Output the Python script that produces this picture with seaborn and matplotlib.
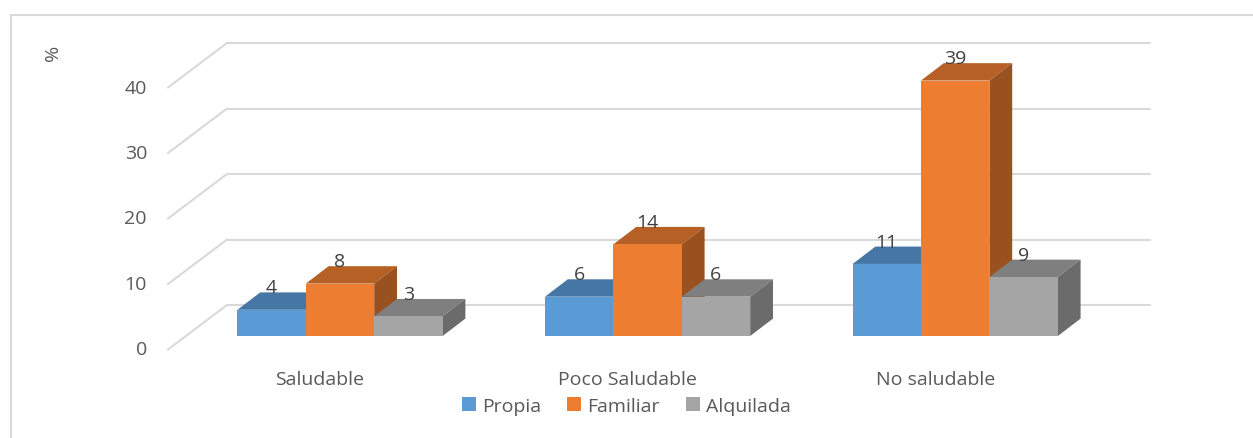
"""3D-look grouped bar chart: housing type vs. diet healthiness."""

import matplotlib.pyplot as plt
import pandas as pd
import seaborn as sns
from matplotlib.patches import Polygon

categories = ["Saludable", "Poco Saludable", "No saludable"]
propia = [4, 6, 11]
familiar = [8, 14, 39]
alquilada = [3, 6, 9]
series_names = ["Propia", "Familiar", "Alquilada"]
y_ticks = [0, 10, 20, 30, 40]

colors = ["#5B9BD5", "#ED7D31", "#A5A5A5"]
top_colors = ["#4677A4", "#B66026", "#7F7F7F"]
side_colors = ["#3B658A", "#9A5120", "#6B6B6B"]
GRID = "#D9D9D9"
TEXT = "#595959"
FONT = 14

# scales of the chart, in pixels
W, H = 1253, 439
PX_X = 307.6  # one category
PX_Y = 6.55  # one percent
X0, Y0 = 340, 337  # first group centre, bar baseline
LEFT, TOP = 11, 16  # frame

# depth of the bars and of the floor, in data units
DX = 22.8 / PX_X
DY = 17.4 / PX_Y
WALL_X = (227 - X0) / PX_X
WALL_Y = (Y0 - 306) / PX_Y
FRONT_X = (168 - X0) / PX_X
FRONT_Y = (Y0 - 350.5) / PX_Y
GRID_END = (1150 - X0) / PX_X

sns.set_theme(style="white")
plt.rcParams["font.family"] = ["Open Sans", "DejaVu Sans"]

df = pd.DataFrame(
    {
        "cat": categories * 3,
        "serie": [s for s in series_names for _ in categories],
        "valor": propia + familiar + alquilada,
    }
)

fig = plt.figure(figsize=(W / 100, H / 100), dpi=100)
ax = fig.add_axes([LEFT / W, 0, (W - LEFT) / W, (H - TOP) / H])

sns.barplot(
    data=df, x="cat", y="valor", hue="serie", hue_order=series_names,
    order=categories, palette=colors, width=0.667, gap=0, saturation=1,
    linewidth=0, ax=ax,
)

# extrude every front face into a box, series by series
for i, bars in enumerate(ax.containers):
    for bar in bars:
        x = bar.get_x()
        w = bar.get_width()
        v = bar.get_height()
        bar.set_zorder(4 + i * 2)
        top = [(x, v), (x + DX, v + DY), (x + w + DX, v + DY), (x + w, v)]
        side = [(x + w, 0), (x + w + DX, DY), (x + w + DX, v + DY), (x + w, v)]
        ax.add_patch(Polygon(top, fc=top_colors[i], ec="none", zorder=3 + i * 2))
        ax.add_patch(Polygon(side, fc=side_colors[i], ec="none", zorder=3 + i * 2))
        ax.text(x + w / 2, v + DY, f"{v:.0f}", ha="center", va="baseline",
                fontsize=FONT, color="#404040", zorder=12)

# walls: horizontal lines at the back, diagonals down to the tick labels
for t in y_ticks:
    ax.plot([WALL_X, GRID_END], [t + WALL_Y, t + WALL_Y], color=GRID, lw=1.5, zorder=1)
    ax.plot([FRONT_X, WALL_X], [t + FRONT_Y, t + WALL_Y], color=GRID, lw=1.5, zorder=1)
    ax.text((147 - X0) / PX_X, t + FRONT_Y, str(t), ha="right", va="center",
            fontsize=FONT, color=TEXT)

for pos, name in enumerate(categories):
    ax.text(pos - 20 / PX_X, (Y0 - 380) / PX_Y, name, ha="center", va="center",
            fontsize=FONT, color=TEXT)

ax.text((53 - X0) / PX_X, (Y0 - 53) / PX_Y, "%", rotation=90, ha="center",
        va="center", fontsize=FONT, color=TEXT)

ax.set_xlim((LEFT - X0) / PX_X, (W - X0) / PX_X)
ax.set_ylim((Y0 - H) / PX_Y, (Y0 - TOP) / PX_Y)
ax.set_xticks([])
ax.set_yticks([])
ax.set_xlabel("")
ax.set_ylabel("")

for name, spine in ax.spines.items():
    spine.set_visible(name in ("left", "top"))
    spine.set_color(GRID)
    spine.set_linewidth(1.5)

sns.move_legend(
    ax, "center left", bbox_to_anchor=(462 / W, 1 - 407 / H),
    bbox_transform=fig.transFigure, ncol=3, title=None, frameon=False,
    fontsize=FONT, labelcolor=TEXT, handlelength=0.72, handleheight=0.72,
    handletextpad=0.3, columnspacing=1.35, borderpad=0, borderaxespad=0,
)

fig.savefig("out.png", dpi=100)
